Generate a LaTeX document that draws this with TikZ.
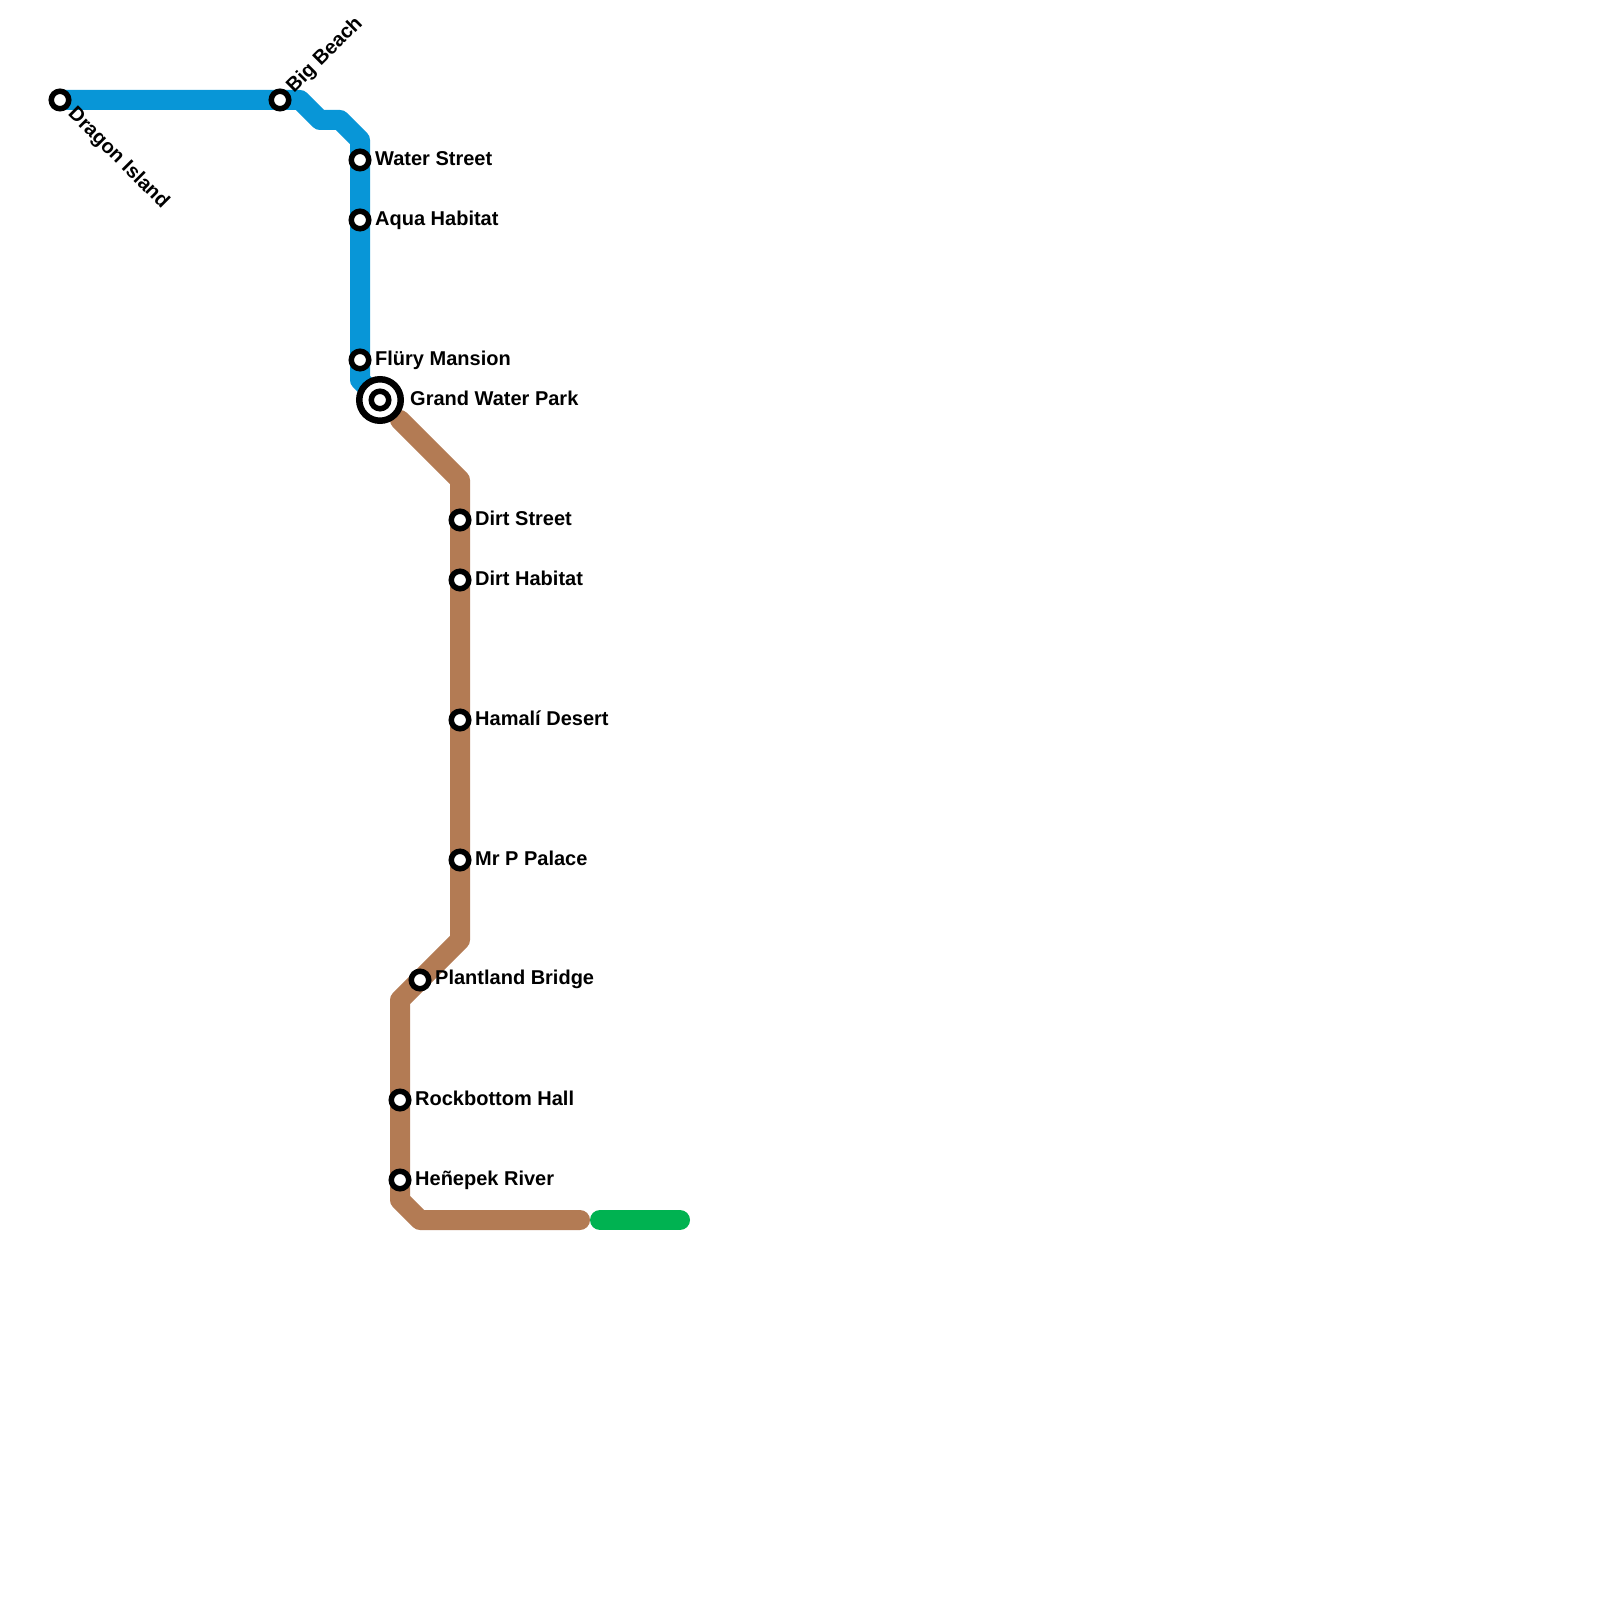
\documentclass[tikz,border=0pt]{standalone}
\usepackage{fontspec}
\setmainfont{Liberation Sans}
\usetikzlibrary{backgrounds}
\definecolor{waterline}{HTML}{0896D7}
\definecolor{dirtline}{HTML}{B37B54}
\definecolor{grassline}{HTML}{00B251}
\tikzset{
  metro/.style={line width=2mm, line join=round, line cap=round},
  stn/.style={circle, draw=black, fill=white, line width=0.55mm, minimum size=1.75mm, inner sep=0pt},
  hub/.style={circle, draw=black, fill=white, line width=0.65mm, minimum size=4.15mm, inner sep=0pt},
  stnlabel/.style={font=\fontsize{5.69}{6.8}\selectfont\bfseries, inner sep=0pt, anchor=base west},
}
\begin{document}
\begin{tikzpicture}
  \useasboundingbox (0,0) rectangle (16,-16);
  % blue line
  \node[stn] (dragon) at (0.6,-1.0) {};
  \node[stn] (bigbeach) at (2.8,-1.0) {};
  \node[stn] (waterst) at (3.6,-1.6) {};
  \node[stn] (aqua) at (3.6,-2.2) {};
  \node[stn] (flury) at (3.6,-3.6) {};
  \node[hub] (grand) at (3.8,-4.0) {};
  \node[stn] (grandin) at (3.8,-4.0) {};
  % brown line
  \node[stn] (dirtst) at (4.6,-5.2) {};
  \node[stn] (dirthab) at (4.6,-5.8) {};
  \node[stn] (hamali) at (4.6,-7.2) {};
  \node[stn] (mrp) at (4.6,-8.6) {};
  \node[stn] (plantland) at (4.2,-9.8) {};
  \node[stn] (rockbottom) at (4.0,-11.0) {};
  \node[stn] (henepek) at (4.0,-11.8) {};
  % line ends
  \coordinate (brownstart) at (4.0,-4.2);
  \coordinate (brownend) at (5.8,-12.2);
  \coordinate (greenstart) at (6.0,-12.2);
  \coordinate (greenend) at (6.8,-12.2);
  \begin{scope}[on background layer]
    \draw[metro, waterline] (dragon.center) -- (bigbeach.center) -- (3.0,-1.0) -- (3.2,-1.2) -- (3.4,-1.2)
      -- (3.6,-1.4) -- (waterst.center) -- (aqua.center) -- (flury.center) -- (3.6,-3.8) -- (grand.center);
    \draw[metro, dirtline] (brownstart) -- (4.6,-4.8) -- (dirtst.center) -- (dirthab.center) -- (hamali.center)
      -- (mrp.center) -- (4.6,-9.4) -- (plantland.center) -- (4.0,-10.0) -- (rockbottom.center)
      -- (henepek.center) -- (4.0,-12.0) -- (4.2,-12.2) -- (brownend);
    \draw[metro, grassline] (greenstart) -- (greenend);
  \end{scope}
  % labels
  \node[stnlabel, rotate=-45] (dragonlabel) at (0.67,-1.145) {Dragon Island};
  \node[stnlabel, rotate=45] (bigbeachlabel) at (2.936,-0.94) {Big Beach};
  \node[stnlabel] (waterstlabel) at (3.745,-1.655) {Water Street};
  \node[stnlabel] (aqualabel) at (3.745,-2.255) {Aqua Habitat};
  \node[stnlabel] (flurylabel) at (3.745,-3.652) {Flüry Mansion};
  \node[stnlabel] (grandlabel) at (4.095,-4.055) {Grand Water Park};
  \node[stnlabel] (dirtstlabel) at (4.745,-5.255) {Dirt Street};
  \node[stnlabel] (dirthablabel) at (4.745,-5.852) {Dirt Habitat};
  \node[stnlabel] (hamalilabel) at (4.745,-7.25) {Hamalí Desert};
  \node[stnlabel] (mrplabel) at (4.745,-8.65) {Mr P Palace};
  \node[stnlabel] (plantlandlabel) at (4.345,-9.848) {Plantland Bridge};
  \node[stnlabel] (rockbottomlabel) at (4.145,-11.05) {Rockbottom Hall};
  \node[stnlabel] (henepeklabel) at (4.145,-11.85) {Heñepek River};
\end{tikzpicture}
\end{document}
